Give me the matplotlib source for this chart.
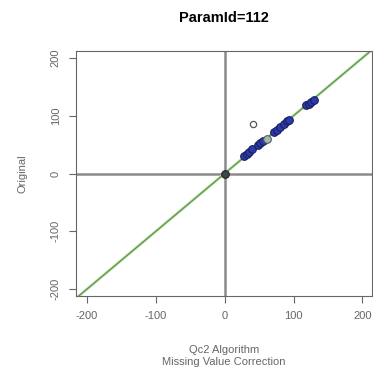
import matplotlib
matplotlib.use("Agg")
import matplotlib.pyplot as plt

plt.rcParams['font.family'] = ['Liberation Sans', 'DejaVu Sans']
plt.rcParams['axes.unicode_minus'] = False

# values
blue_x = [28, 32, 36, 40, 48, 52, 56, 72, 76, 80, 86, 90, 94, 118, 122, 126, 130]
blue_y = [30, 34, 38, 42, 50, 53, 56, 72, 76, 80, 86, 90, 92, 118, 121, 124, 128]
grey_x = [61]
grey_y = [60]
origin_x = [0]
origin_y = [0]
open_x = [41]
open_y = [86]
ticks = [-200, -100, 0, 100, 200]

fig = plt.figure(figsize=(3.73, 3.84), dpi=100)
ax = fig.add_axes([76/373, 1 - 296/384, (372-76)/373, (296-51)/384])

ax.axhline(0, color='#8a8a8a', lw=1.8, zorder=1)
ax.axvline(0, color='#8a8a8a', lw=1.8, zorder=1)
ax.plot([-230, 230], [-230, 230], color='#c4e6b4', lw=2.2, zorder=2)
ax.plot([-230, 230], [-230, 230], color='#5a9348', lw=0.9, zorder=2)

ax.plot(blue_x, blue_y, 'o', ms=5.5, mfc='#2a3bb0', mec='#1a1f5a', mew=0.8, zorder=3)
ax.plot(grey_x, grey_y, 'o', ms=5.5, mfc='#a8b8b0', mec='#556060', mew=0.8, zorder=3)
ax.plot(origin_x, origin_y, 'o', ms=5.5, mfc='#3a4a4a', mec='#222222', mew=0.8, zorder=3)
ax.plot(open_x, open_y, 'o', ms=4.5, mfc='none', mec='#555555', mew=0.9, zorder=3)

ax.set_xlim(-216, 214)
ax.set_ylim(-212, 212)
ax.set_xticks(ticks)
ax.set_yticks(ticks)
ax.set_yticklabels([str(t) for t in ticks], rotation=90, va='center')
ax.tick_params(labelsize=8, colors='#666666', length=5, pad=6)
for s in ax.spines.values():
    s.set_color('#666666')
    s.set_linewidth(0.8)

ax.set_title("ParamId=112", fontsize=10.5, fontweight='bold', pad=21)
ax.set_xlabel("Qc2 Algorithm\nMissing Value Correction", fontsize=8, color='#666666',
              labelpad=17, linespacing=1.3)
ax.set_ylabel("Original", fontsize=8, color='#666666', labelpad=17)

fig.savefig("out.png", dpi=100)
